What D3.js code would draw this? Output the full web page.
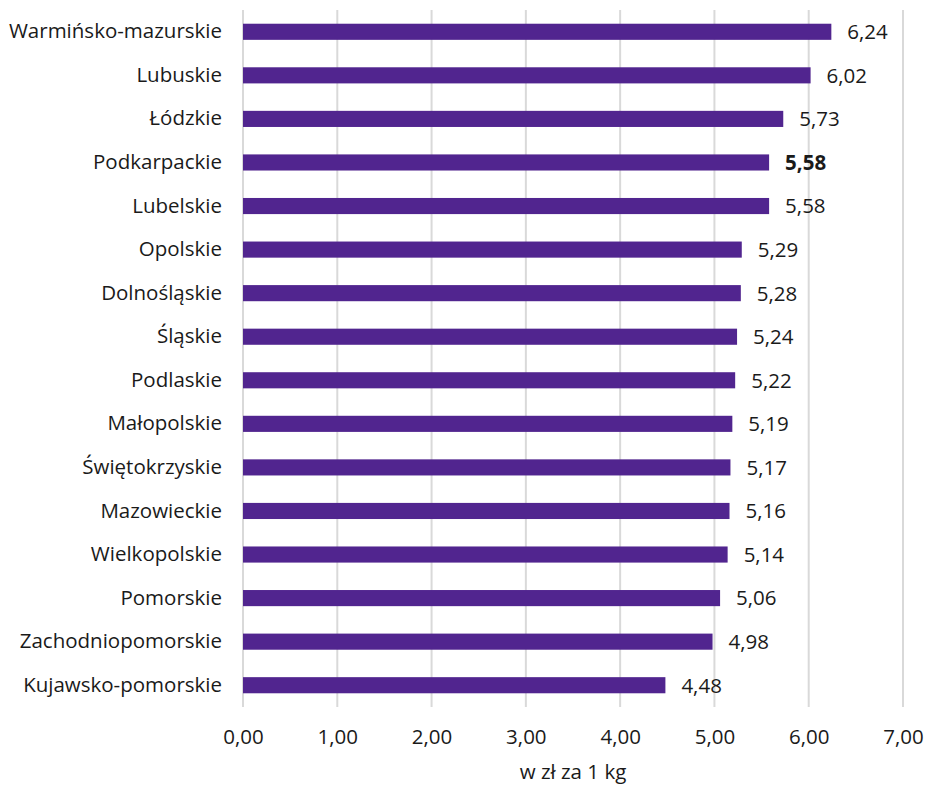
<!DOCTYPE html>
<html>
<head>
<meta charset="utf-8">
<script src="https://cdn.jsdelivr.net/npm/d3@7"></script>
<style>
  body { margin: 0; background: #fff; }
  text { font-family: "Open Sans", "Noto Sans", sans-serif; fill: #1a1a1a; }
</style>
</head>
<body>
<script>
// Regions, top to bottom
const regions = [
  "Warmińsko-mazurskie", "Lubuskie", "Łódzkie", "Podkarpackie", "Lubelskie",
  "Opolskie", "Dolnośląskie", "Śląskie", "Podlaskie", "Małopolskie",
  "Świętokrzyskie", "Mazowieckie", "Wielkopolskie", "Pomorskie",
  "Zachodniopomorskie", "Kujawsko-pomorskie"
];
const prices = [6.24, 6.02, 5.73, 5.58, 5.58, 5.29, 5.28, 5.24, 5.22, 5.19, 5.17, 5.16, 5.14, 5.06, 4.98, 4.48];
const highlighted = ["Podkarpackie"];
const xTicks = [0, 1, 2, 3, 4, 5, 6, 7];
const axisTitle = "w zł za 1 kg";

const width = 926, height = 785;
const margin = { top: 10, right: 23, bottom: 78, left: 243 };
const barColor = "#51258f";
const gridColor = "#d9d9d9";
const fontFamily = "'Open Sans', 'Noto Sans', sans-serif";
const fontSize = 20.5;

const fmt = v => d3.format(".2f")(v).replace(".", ",");

const svg = d3.select("body").append("svg")
  .attr("width", width)
  .attr("height", height);

const x = d3.scaleLinear()
  .domain([0, 7])
  .range([margin.left, width - margin.right]);

const y = d3.scaleBand()
  .domain(regions)
  .range([margin.top, height - margin.bottom])
  .paddingInner(0.63)
  .paddingOuter(0.315);

// Vertical gridlines
svg.append("g")
  .selectAll("line")
  .data(xTicks)
  .join("line")
  .attr("x1", d => x(d))
  .attr("x2", d => x(d))
  .attr("y1", margin.top)
  .attr("y2", height - margin.bottom)
  .attr("stroke", gridColor)
  .attr("stroke-width", 2);

// Bars
svg.append("g")
  .selectAll("rect")
  .data(regions)
  .join("rect")
  .attr("x", x(0))
  .attr("y", d => y(d))
  .attr("width", (d, i) => x(prices[i]) - x(0))
  .attr("height", y.bandwidth())
  .attr("fill", barColor);

// Value labels
svg.append("g")
  .selectAll("text")
  .data(regions)
  .join("text")
  .attr("x", (d, i) => x(prices[i]) + 16)
  .attr("y", d => y(d) + y.bandwidth() / 2)
  .attr("dy", "0.36em")
  .attr("font-size", fontSize)
  .attr("font-weight", d => highlighted.includes(d) ? "bold" : "normal")
  .text((d, i) => fmt(prices[i]));

// Y axis (category labels)
const yAxis = svg.append("g")
  .attr("transform", `translate(${margin.left},0)`)
  .call(d3.axisLeft(y).tickSize(0).tickPadding(21));
yAxis.select(".domain").remove();
yAxis.selectAll("text")
  .attr("font-size", fontSize)
  .style("font-family", fontFamily)
  .attr("fill", "#1a1a1a");

// X axis
const xAxis = svg.append("g")
  .attr("transform", `translate(0,${height - margin.bottom})`)
  .call(d3.axisBottom(x).tickValues(xTicks).tickFormat(fmt).tickSize(0).tickPadding(22));
xAxis.select(".domain").remove();
xAxis.selectAll("text")
  .attr("font-size", fontSize)
  .style("font-family", fontFamily)
  .attr("fill", "#1a1a1a");

// Axis title
svg.append("text")
  .attr("x", (x(0) + x(7)) / 2)
  .attr("y", 779)
  .attr("text-anchor", "middle")
  .attr("font-size", fontSize)
  .text(axisTitle);
</script>
</body>
</html>
